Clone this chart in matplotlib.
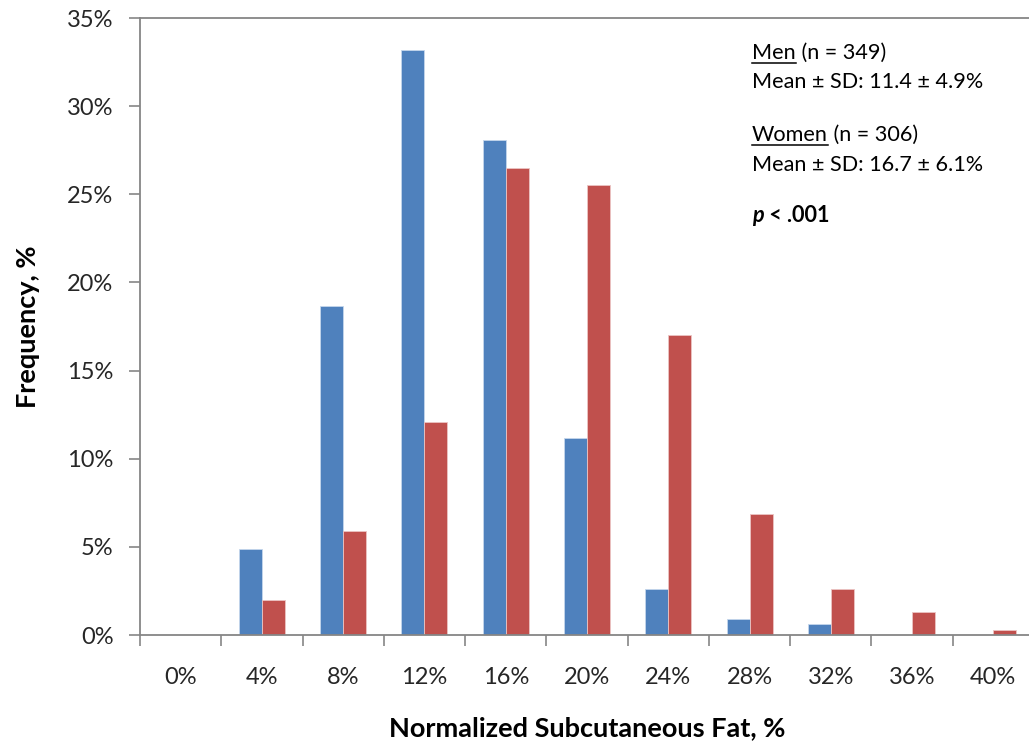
import numpy as np
import matplotlib.pyplot as plt
from matplotlib.lines import Line2D

categorii = ["0%", "4%", "8%", "12%", "16%", "20%", "24%", "28%", "32%", "36%", "40%"]
barbati = [0.0, 4.9, 18.65, 33.2, 28.1, 11.2, 2.6, 0.9, 0.6, 0.0, 0.0]
femei = [0.0, 2.0, 5.9, 12.1, 26.5, 25.5, 17.0, 6.85, 2.6, 1.3, 0.3]
y_ticks = [0, 5, 10, 15, 20, 25, 30, 35]

albastru = "#4F81BD"
rosu = "#C0504D"
gri = "#868686"

plt.rcParams['font.family'] = ['Lato', 'DejaVu Sans']

W, H = 1029, 747
fig = plt.figure(figsize=(W / 100, H / 100), dpi=100)
# axa se termina dincolo de marginea din dreapta, ca in imaginea originala
ax = fig.add_axes([140 / W, (H - 635) / H, 894 / W, 617 / H])

x = np.arange(len(categorii))
w = 0.283
ax.bar(x - w / 2, barbati, w, color=albastru, edgecolor="#C5D6EC", linewidth=0.6)
ax.bar(x + w / 2, femei, w, color=rosu, edgecolor="#EBC4C3", linewidth=0.6)

ax.set_xlim(-0.5, len(categorii) - 0.5)
ax.set_ylim(0, 35)
ax.set_yticks(y_ticks)
ax.set_yticklabels([f"{v}%" for v in y_ticks])
ax.set_xticks(np.arange(len(categorii) + 1) - 0.5)
ax.set_xticklabels([])
ax.set_xticks(x, minor=True)
ax.set_xticklabels(categorii, minor=True)

for s in ax.spines.values():
    s.set_color(gri)
    s.set_linewidth(1.3)

ax.tick_params(axis='x', which='major', length=8, width=1.2, color=gri, direction='out')
ax.tick_params(axis='x', which='minor', length=0, pad=23, labelsize=17, labelcolor="#262626")
ax.tick_params(axis='y', length=8, width=1.2, color=gri, direction='out', pad=11,
               labelsize=17, labelcolor="#262626")

ax.set_xlabel("Normalized Subcutaneous Fat, %", fontsize=19.5, fontweight='bold')
ax.set_ylabel("Frequency, %", fontsize=19.5, fontweight='bold')
ax.xaxis.set_label_coords(0.5, (635 - 716) / 617)
ax.yaxis.set_label_coords((40 - 140) / 894, 0.5)

# text cu parti subliniate / italice
renderer = fig.canvas.get_renderer()
x0 = 752

def scrie(parti, baza_px, marime=15.6):
    xp = x0
    for txt, stil, sub in parti:
        t = fig.text(xp / W, 1 - baza_px / H, txt, fontsize=marime, va='baseline',
                     ha='left', color='black', **stil)
        bb = t.get_window_extent(renderer)
        if sub:
            yl = 1 - (baza_px + 4) / H
            fig.add_artist(Line2D([bb.x0 / W, bb.x1 / W], [yl, yl], color='black',
                                  linewidth=1.1))
        xp = bb.x1

scrie([("Men", {}, True), (" (n = 349)", {}, False)], 59)
scrie([("Mean ± SD: 11.4 ± 4.9%", {}, False)], 88)
scrie([("Women", {}, True), (" (n = 306)", {}, False)], 141)
scrie([("Mean ± SD: 16.7 ± 6.1%", {}, False)], 171)
scrie([("p", {'fontweight': 'bold', 'fontstyle': 'italic'}, False),
       (" < .001", {'fontweight': 'bold'}, False)], 222)

fig.savefig("out.png", dpi=100)
